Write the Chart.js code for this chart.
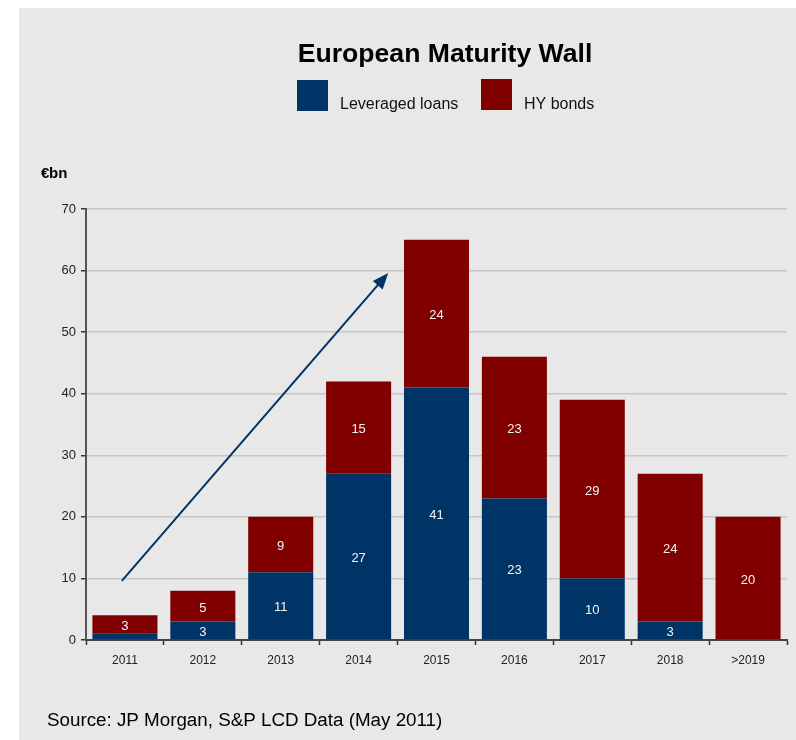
<!DOCTYPE html>
<html>
<head>
<meta charset="utf-8">
<title>European Maturity Wall</title>
<script src="https://cdn.jsdelivr.net/npm/chart.js@4/dist/chart.umd.min.js"></script>
<style>
  html, body { margin: 0; padding: 0; background: #fff; }
  #wrap { position: relative; width: 796px; height: 740px; }
</style>
</head>
<body>
<div id="wrap"><canvas id="chart-wall" width="796" height="740"></canvas></div>
<script>
// maturities, € bn
var years = ["2011", "2012", "2013", "2014", "2015", "2016", "2017", "2018", ">2019"];
var loans = [1, 3, 11, 27, 41, 23, 10, 3, 0];
var hyBonds = [3, 5, 9, 15, 24, 23, 29, 24, 20];
var yTicks = [0, 10, 20, 30, 40, 50, 60, 70];

// trend arrow, in [category index, value]
var arrowFrom = [-0.04, 9.6];
var arrowTo = [3.38, 59.6];

var BLUE = "#003366";
var RED = "#800000";
var FONT = "'Liberation Sans', Arial, sans-serif";

// grey panel, title, legend, unit and source text
var framePlugin = {
  id: "frame",
  beforeDraw: function (chart) {
    var c = chart.ctx;
    c.save();
    c.fillStyle = "#e8e8e8";
    c.fillRect(19, 8, chart.width - 19, chart.height - 8);
    c.restore();
  },
  afterDraw: function (chart) {
    var c = chart.ctx;
    c.save();
    c.fillStyle = "#000";
    c.textAlign = "center";
    c.textBaseline = "alphabetic";
    c.font = "bold 26.6px " + FONT;
    c.fillText("European Maturity Wall", 445, 62);

    // legend
    var items = [[297, 80], [481, 79]];
    c.font = "16px " + FONT;
    c.textAlign = "left";
    chart.data.datasets.forEach(function (ds, i) {
      var p = items[i];
      c.fillStyle = ds.backgroundColor;
      c.fillRect(p[0], p[1], 31, 31);
      c.fillStyle = "#111";
      c.fillText(ds.label, p[0] + 43, 109);
    });

    // unit
    c.fillStyle = "#000";
    c.font = "bold 15px " + FONT;
    c.fillText("€", 41, 178);
    c.fillText("bn", 49, 178);

    c.font = "18.8px " + FONT;
    c.fillText("Source: JP Morgan, S&P LCD Data (May 2011)", 47, 726);
    c.restore();
  }
};

// white value labels inside each segment
var labelPlugin = {
  id: "segLabels",
  afterDatasetsDraw: function (chart) {
    var c = chart.ctx;
    c.save();
    c.fillStyle = "#f4f4f4";
    c.font = "13px " + FONT;
    c.textAlign = "center";
    c.textBaseline = "middle";
    chart.data.datasets.forEach(function (ds, i) {
      chart.getDatasetMeta(i).data.forEach(function (bar, j) {
        var v = ds.data[j];
        if (v < 2) return;
        var mid = (bar.y + bar.base) / 2;
        c.fillText(String(v), bar.x, mid + 2);
      });
    });
    c.restore();
  }
};

// arrow drawn through the scales
var arrowPlugin = {
  id: "trendArrow",
  afterDatasetsDraw: function (chart) {
    var xs = chart.scales.x, ys = chart.scales.y;
    var x1 = xs.getPixelForValue(arrowFrom[0]), y1 = ys.getPixelForValue(arrowFrom[1]);
    var x2 = xs.getPixelForValue(arrowTo[0]), y2 = ys.getPixelForValue(arrowTo[1]);
    var ang = Math.atan2(y2 - y1, x2 - x1);
    var head = 16, half = 6.5;
    var bx = x2 - head * Math.cos(ang), by = y2 - head * Math.sin(ang);
    var c = chart.ctx;
    c.save();
    c.strokeStyle = BLUE;
    c.fillStyle = BLUE;
    c.lineWidth = 2;
    c.beginPath();
    c.moveTo(x1, y1);
    c.lineTo(bx + 2 * Math.cos(ang), by + 2 * Math.sin(ang));
    c.stroke();
    c.beginPath();
    c.moveTo(x2, y2);
    c.lineTo(bx - half * Math.sin(ang), by + half * Math.cos(ang));
    c.lineTo(bx + half * Math.sin(ang), by - half * Math.cos(ang));
    c.closePath();
    c.fill();
    c.restore();
  }
};

var ctx = document.getElementById("chart-wall").getContext("2d");

new Chart(ctx, {
  type: "bar",
  data: {
    labels: years,
    datasets: [
      {
        label: "Leveraged loans",
        data: loans,
        backgroundColor: BLUE,
        borderWidth: 0,
        barPercentage: 0.835,
        categoryPercentage: 1
      },
      {
        label: "HY bonds",
        data: hyBonds,
        backgroundColor: RED,
        borderWidth: 0,
        barPercentage: 0.835,
        categoryPercentage: 1
      }
    ]
  },
  options: {
    responsive: false,
    animation: false,
    events: [],
    layout: {
      padding: { left: 0, top: 209, right: 9, bottom: 0 }
    },
    plugins: {
      legend: { display: false },
      title: { display: false },
      tooltip: { enabled: false }
    },
    scales: {
      x: {
        stacked: true,
        afterFit: function (scale) { scale.height = 100; },
        border: { color: "#444", width: 2 },
        grid: {
          offset: true,
          drawOnChartArea: false,
          drawTicks: true,
          tickLength: 5,
          tickColor: "#333",
          tickWidth: 1.5
        },
        ticks: {
          color: "#222",
          padding: 8,
          maxRotation: 0,
          font: { size: 12, family: FONT }
        }
      },
      y: {
        stacked: true,
        min: 0,
        max: 70,
        afterFit: function (scale) { scale.width = 86; },
        afterBuildTicks: function (scale) {
          scale.ticks = yTicks.map(function (v) { return { value: v }; });
        },
        border: { color: "#555", width: 2 },
        grid: {
          color: "#c6c6c6",
          lineWidth: 1.5,
          drawTicks: true,
          tickLength: 5,
          tickColor: "#333",
          tickWidth: 1.5
        },
        ticks: {
          color: "#222",
          padding: 5,
          font: { size: 13, family: FONT }
        }
      }
    }
  },
  plugins: [framePlugin, arrowPlugin, labelPlugin]
});
</script>
</body>
</html>
